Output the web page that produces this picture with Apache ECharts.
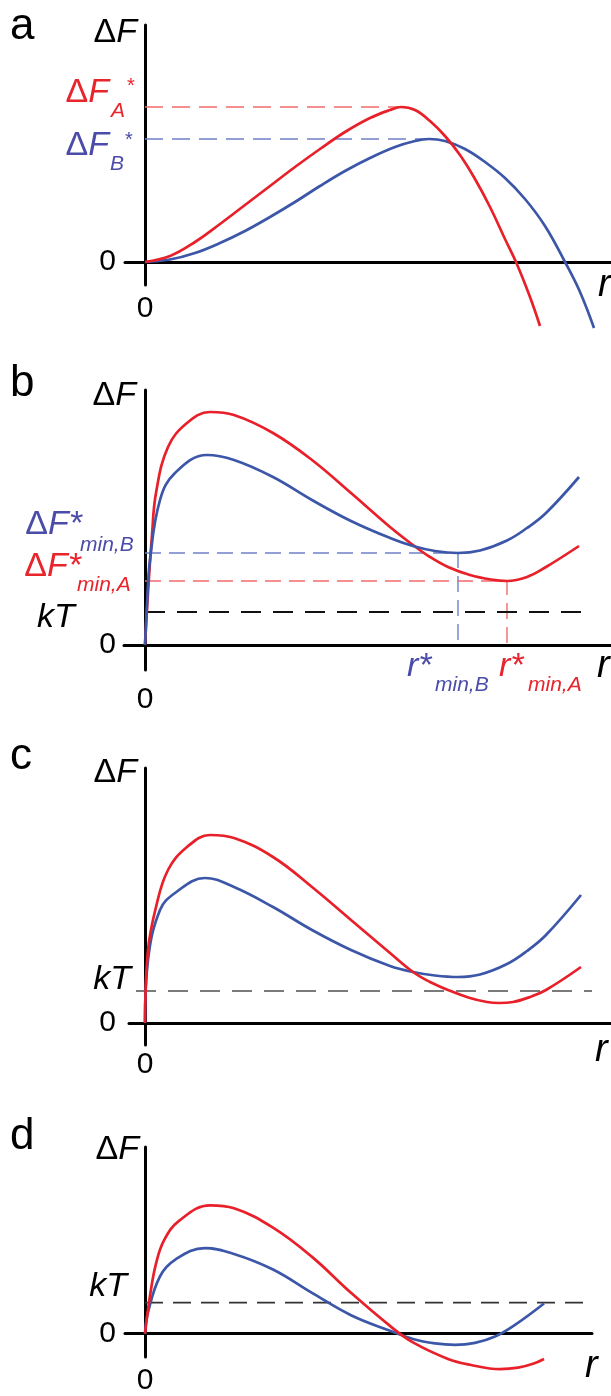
<!DOCTYPE html>
<html><head><meta charset="utf-8">
<script src="https://cdn.jsdelivr.net/npm/echarts@6/dist/echarts.min.js"></script>
<style>html,body{margin:0;padding:0;background:#fff}#c{width:611px;height:1396px}</style>
</head><body><div id="c"></div>
<script>
// ---------- data (arbitrary units: r along x, ΔF along y) ----------
const panelLetters = ['a', 'b', 'c', 'd'];
// panel a
const aRed  = [[0,0],[2.5,0.6],[5,2.0],[7.5,3.8],[10,5.7],[12.5,7.6],[15,9.5],[17.5,11.3],[20,13.0],[22.5,14.4],[24.5,15.2],[25.6,15.5],[27,15.2],[28.5,14.1],[30,12.6],[31.5,10.7],[33,8.3],[34.5,5.5],[36,2.3],[37.1,0],[38.5,-3.5],[39.5,-6.4]];
const aBlue = [[0,0],[2.5,0.25],[5,0.9],[7.5,1.9],[10,3.1],[12.5,4.5],[15,6.0],[17.5,7.6],[20,9.1],[22.5,10.4],[25,11.5],[27,12.1],[28.4,12.3],[30,12.1],[32,11.3],[34,10.0],[36,8.4],[38,6.3],[40,3.6],[42,0],[43.5,-3.0],[44.9,-6.6]];
const aPeakA = [25.6, 15.5];
const aPeakB = [28.4, 12.3];
// panel b
const bRed  = [[0,0],[0.3,5.2],[0.7,11],[1.1,15.2],[2.3,19.8],[4.2,22.2],[6.5,23.3],[8.9,23.0],[12.8,21.2],[16.7,18.5],[20.6,15.2],[24.5,11.8],[26.8,10.0],[28.5,8.8],[30.3,7.8],[32.5,7.0],[34.6,6.55],[36.2,6.4],[38.2,6.8],[40.1,7.8],[43.4,9.9]];
const bBlue = [[0,0],[0.2,4],[0.5,8.5],[1.5,14.5],[3.0,17.2],[6.2,19.0],[8.9,18.5],[12.8,16.8],[16.7,14.5],[20.6,12.4],[24.5,10.7],[26.8,9.9],[29.0,9.4],[31.3,9.2],[33.5,9.45],[36.2,10.45],[38.2,11.7],[40.1,13.2],[43.4,16.8]];
const bMinB = [31.3, 9.2];
const bMinA = [36.2, 6.4];
const bKT = 3.3, bKTend = 44.5;
// panel c
const cRed  = [[0,0],[0.3,7.3],[1.1,11.6],[2.3,15.3],[4.2,17.6],[6.5,18.8],[8.9,18.5],[12.8,16.6],[16.7,13.6],[20.6,10.3],[24.5,7.0],[26.8,5.1],[28.5,4.1],[30.3,3.3],[32.5,2.5],[34.2,2.1],[35.4,2.0],[36.8,2.1],[38.5,2.6],[40.1,3.3],[43.6,5.6]];
const cBlue = [[0,0],[0.3,6.3],[1.5,11.3],[3.0,13.0],[6.0,14.5],[8.9,13.6],[12.8,11.6],[16.7,9.3],[20.6,7.3],[24.5,5.7],[26.8,5.1],[29.0,4.75],[31.3,4.6],[33.5,4.85],[36.2,5.9],[38.2,7.2],[40.1,8.8],[43.6,12.8]];
const cKT = 3.2, cKTstart = -0.9, cKTend = 44.7;
// panel d
const dRed  = [[0,0],[0.5,3.9],[1.1,7.2],[1.9,9.6],[3.4,11.6],[6.5,13.2],[8.9,12.9],[12.8,10.9],[16.7,7.9],[20.6,4.2],[24.5,0.8],[26.8,-0.9],[30.3,-2.6],[32.5,-3.2],[35.5,-3.65],[37.3,-3.5],[38.8,-3.1],[39.9,-2.6]];
const dBlue = [[0,0],[0.3,2.2],[1.5,5.9],[3.0,7.6],[6.0,8.8],[8.9,8.2],[12.8,6.6],[16.7,4.2],[20.6,1.9],[24.5,0.3],[26.8,-0.55],[29,-1.0],[31,-1.15],[33,-0.95],[35,-0.3],[37,0.9],[39.9,3.1]];
const dKT = 3.2, dKTend = 44.3;
const axisTickLabels = ['0'];

// ---------- styling ----------
const FF = '"Liberation Sans", Arial, sans-serif';
const RED = '#e8202a', BLUE = '#3c56a8', RED_L = '#e8242c', BLUE_L = '#4b4caa';
const RED_D = '#ef6b6b', BLUE_D = '#6f7fc8';

const grids = [
  {left:125, top:25,   width:486, height:260},
  {left:124, top:390,  width:487, height:280},
  {left:129, top:768,  width:482, height:277},
  {left:125, top:1147, width:467, height:216}
];
const xr = [[-2,46.6],[-2.1,46.6],[-1.6,46.6],[-2,44.7]];
const yr = [[-2.3,23.7],[-2.5,25.5],[-2.2,25.5],[-2.4,19.2]];
const xMargins = [9, 15, 5, 9];
const yMargins = [9, 8, 13, 9];

const xAxes = grids.map((g,i)=>({
  gridIndex:i, type:'value', min:xr[i][0], max:xr[i][1],
  axisLine:{onZero:true, lineStyle:{color:'#000', width:3}},
  axisTick:{show:false}, splitLine:{show:false},
  axisLabel:{customValues:[0], formatter:()=>axisTickLabels[0], margin:xMargins[i], fontSize:30, color:'#000', fontFamily:FF}
}));
const yAxes = grids.map((g,i)=>({
  gridIndex:i, type:'value', min:yr[i][0], max:yr[i][1],
  axisLine:{onZero:true, lineStyle:{color:'#000', width:3}},
  axisTick:{show:false}, splitLine:{show:false},
  axisLabel:{customValues:[0], formatter:()=>axisTickLabels[0], margin:yMargins[i], fontSize:30, color:'#000', fontFamily:FF}
}));

function curve(data, gi, color, z){
  return {type:'line', xAxisIndex:gi, yAxisIndex:gi, data:data, smooth:0.4, showSymbol:false,
    clip:false, lineStyle:{color:color, width:2.7}, z:z, silent:true};
}
function dash(data, gi, color, width, pattern, z){
  return {type:'line', xAxisIndex:gi, yAxisIndex:gi, data:data, smooth:false, showSymbol:false,
    clip:false, lineStyle:{color:color, width:width, type:pattern}, z:z||1, silent:true};
}

const series = [
  // a
  dash([[0,aPeakA[1]],aPeakA], 0, RED_D, 1.5, [18,9]),
  dash([[0,aPeakB[1]],aPeakB], 0, BLUE_D, 1.5, [18,9]),
  curve(aBlue, 0, BLUE, 3), curve(aRed, 0, RED, 4),
  // b
  dash([[0,bMinB[1]],bMinB,[bMinB[0],0]], 1, BLUE_D, 1.4, [16,8]),
  dash([[0,bMinA[1]],bMinA,[bMinA[0],0]], 1, RED_D, 1.4, [16,8]),
  dash([[0,bKT],[bKTend,bKT]], 1, '#111', 2, [20,12]),
  curve(bRed, 1, RED, 3), curve(bBlue, 1, BLUE, 4),
  // c
  dash([[cKTstart,cKT],[cKTend,cKT]], 2, '#7a7a7a', 2, [20,12]),
  curve(cBlue, 2, BLUE, 3), curve(cRed, 2, RED, 4),
  // d
  dash([[0,dKT],[dKTend,dKT]], 3, '#333', 1.7, [18,10]),
  curve(dBlue, 3, BLUE, 3), curve(dRed, 3, RED, 4)
];

const chart = echarts.init(document.getElementById('c'), null, {renderer:'canvas'});
chart.setOption({
  animation:false, backgroundColor:'#fff',
  grid:grids, xAxis:xAxes, yAxis:yAxes, series:series
});

function P(gi, pt){ return chart.convertToPixel({gridIndex:gi}, pt); }
function txt(x, y, text, font, fill, align){
  return {type:'text', x:x, y:y, silent:true, z:100,
    style:{text:text, font:font, fill:fill, textAlign:align||'left', textVerticalAlign:'middle'}};
}
function rich(x, y, text, richDef, align){
  return {type:'text', x:x, y:y, silent:true, z:100,
    style:{text:text, rich:richDef, textAlign:align||'left', textVerticalAlign:'middle'}};
}
function dF(x, y, color, size, tail){
  return rich(x, y, '{d|Δ}{f|F' + (tail||'') + '}', {
    d:{font: size+'px '+FF, fill:color},
    f:{font: 'italic '+size+'px '+FF, fill:color}
  }, 'right');
}

const g = [];
const letterY = [27, 384, 757, 1137];
panelLetters.forEach((L,i)=> g.push(txt(10, letterY[i], L, '44px '+FF, '#000')));
const dFy = [33, 396, 773, 1150];
const dFx = [137, 136, 137, 139];
dFy.forEach((y,i)=> g.push(dF(dFx[i], y, '#000', 34)));

// panel a
const pA = P(0, [0, aPeakA[1]]), pB = P(0, [0, aPeakB[1]]);
g.push(dF(109, pA[1]-14, RED_L, 34));
g.push(txt(111, pA[1]+4, 'A', 'italic 21px '+FF, RED_L));
g.push(txt(127, pA[1]-21, '*', '20px '+FF, RED_L));
g.push(dF(109, pB[1]+7, BLUE_L, 34));
g.push(txt(110, pB[1]+25, 'B', 'italic 21px '+FF, BLUE_L));
g.push(txt(125, pB[1]+1, '*', '20px '+FF, BLUE_L));
g.push(txt(598, P(0,[0,0])[1]+23, 'r', 'italic 38px '+FF, '#000'));

// panel b
const qB = P(1, [0, bMinB[1]]), qA = P(1, [0, bMinA[1]]), qK = P(1, [0, bKT]);
const b0 = P(1, [0,0]);
g.push(dF(82, qB[1]-28, BLUE_L, 34, '*'));
g.push(txt(80, qB[1]-8, 'min,B', 'italic 21px '+FF, BLUE_L));
g.push(dF(81, qA[1]-14.5, RED_L, 34, '*'));
g.push(txt(77, qA[1]+4, 'min,A', 'italic 21px '+FF, RED_L));
g.push(txt(37, qK[1]+6, 'kT', 'italic 34px '+FF, '#000'));
const rB = P(1, [bMinB[0], 0]), rA = P(1, [bMinA[0], 0]);
g.push(txt(rB[0]-51, b0[1]+22, 'r*', 'italic 34px '+FF, BLUE_L));
g.push(txt(rB[0]-23, b0[1]+40, 'min,B', 'italic 21px '+FF, BLUE_L));
g.push(txt(rA[0]-8, b0[1]+22, 'r*', 'italic 34px '+FF, RED_L));
g.push(txt(rA[0]+21, b0[1]+40, 'min,A', 'italic 21px '+FF, RED_L));
g.push(txt(597, b0[1]+21, 'r', 'italic 38px '+FF, '#000'));

// panel c
const c0 = P(2, [0,0]), cK = P(2, [0, cKT]);
g.push(txt(131, cK[1]-11, 'kT', 'italic 34px '+FF, '#000', 'right'));
g.push(txt(595, c0[1]+27, 'r', 'italic 38px '+FF, '#000'));

// panel d
const d0 = P(3, [0,0]), dK = P(3, [0, dKT]);
g.push(txt(127, dK[1]-16, 'kT', 'italic 34px '+FF, '#000', 'right'));
g.push(txt(585, d0[1]+33, 'r', 'italic 38px '+FF, '#000'));

chart.setOption({graphic:{elements:g}});
</script>
</body></html>
